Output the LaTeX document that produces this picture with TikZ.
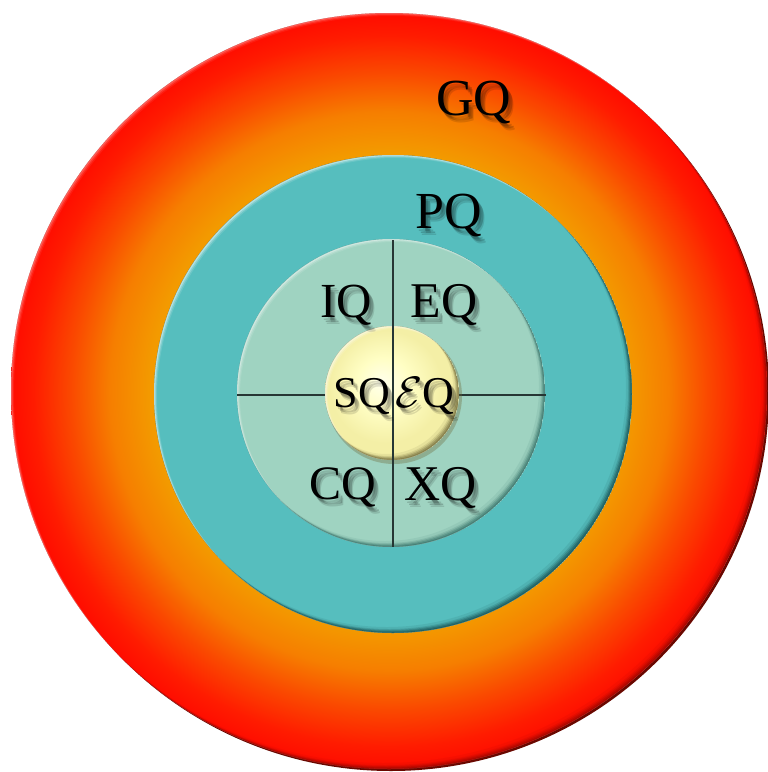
\RequirePackage{fix-cm}
\documentclass[tikz,border=0pt]{standalone}
\usepackage{fontspec}
\setmainfont{Liberation Serif}
\usetikzlibrary{calc}

\definecolor{gqorange}{HTML}{F39A00}
\definecolor{gqmid}{HTML}{F67E00}
\definecolor{gqmidb}{HTML}{FA4A00}
\definecolor{gqred}{HTML}{FF1C00}
\definecolor{gqredb}{HTML}{FF0C00}
\definecolor{gqrim}{HTML}{6A0800}
\definecolor{pqteal}{HTML}{56BEBE}
\definecolor{pqdark}{HTML}{174F50}
\definecolor{mint}{HTML}{9FD3C1}
\definecolor{mintdark}{HTML}{2E6A62}
\definecolor{sqlight}{HTML}{FFFFEC}
\definecolor{sqmid}{HTML}{FFFEC4}
\definecolor{sqedge}{HTML}{F4EFA6}
\definecolor{sqdark}{HTML}{6E6838}
\definecolor{divline}{HTML}{263634}

\pgfdeclareradialshading{gqshade}{\pgfpoint{0bp}{0bp}}{%
  color(0bp)=(gqorange); color(15.8bp)=(gqorange); color(18.5bp)=(gqmid);
  color(21bp)=(gqmidb); color(23.5bp)=(gqred); color(25bp)=(gqredb); color(50bp)=(gqredb)}
\pgfdeclareradialshading{sqshade}{\pgfpoint{-4bp}{4bp}}{%
  color(0bp)=(sqlight); color(10bp)=(sqmid); color(21bp)=(sqedge); color(25bp)=(sqedge); color(50bp)=(sqedge)}

\newcommand{\bevelring}[4]{%
  \begin{scope}
    \clip (#1) circle (#2);
    \foreach \d/\o in {1/0.30,2/0.24,3/0.18,4/0.12,6/0.07}{
      \fill[#3, opacity=\o*#4, even odd rule] (#1) circle (#2) ($(#1)+(-\d,-\d)$) circle (#2);
    }
    \foreach \d/\o in {1/0.25,2/0.15,3/0.08}{
      \fill[white, opacity=\o*#4, even odd rule] (#1) circle (#2) ($(#1)+(\d,\d)$) circle (#2);
    }
  \end{scope}}

\newcommand{\qfont}[1]{\fontsize{#1}{#1}\selectfont}

\newcommand{\qlabel}[6]{%
  \foreach \dx/\dy/\o in {2/3/0.14,4/5/0.20,5/7/0.12}{
    \node[anchor=#4, inner sep=0pt, text=black, text opacity=\o, font=\qfont{#6}]
      at ($(#2,#3)+(\dx,\dy)$) {#5};
  }
  \node[anchor=#4, inner sep=0pt, text=black, font=\qfont{#6}] (#1) at (#2,#3) {#5};}

\begin{document}
\begin{tikzpicture}[x=1pt,y=-1pt]
  \useasboundingbox (0,0) rectangle (768,772);
  \fill[white] (0,0) rectangle (768,772);

  \coordinate (cg) at (389,391);
  \coordinate (cgs) at (391,393);
  \coordinate (cp) at (393,394);
  \coordinate (cm) at (391,393);
  \coordinate (cs) at (392,393);

  % GQ ring
  \fill[gqrim] (cgs) circle (378);
  \shade[shading=gqshade] (cg) circle (378);
  \bevelring{cg}{378}{gqrim}{0.8}

  % PQ disc
  \fill[pqteal] (cp) circle (239);
  \bevelring{cp}{239}{pqdark}{1.5}

  % inner disc
  \fill[mint] (cm) circle (154);
  \bevelring{cm}{154}{mintdark}{1.3}

  % dividing lines
  \coordinate (hl) at (237,395);
  \coordinate (hr) at (546,395);
  \coordinate (vt) at (393,240);
  \coordinate (vb) at (393,547);
  \draw[divline, line width=1.2pt] (hl) -- (hr);

  % SQ disc
  \fill[sqdark, opacity=0.35] ($(cs)+(2,3)$) circle (68);
  \shade[shading=sqshade] (cs) circle (67);
  \bevelring{cs}{67}{sqdark}{1.4}

  \draw[divline, line width=1.2pt] (vt) -- (vb);

  % labels
  \qlabel{gq}{474}{115}{base}{GQ}{52}
  \qlabel{pq}{449}{228}{base}{PQ}{52}
  \qlabel{iq}{346}{317}{base}{IQ}{49}
  \qlabel{eq}{444}{317}{base}{EQ}{50}
  \qlabel{sq}{390}{407}{base east}{SQ}{44}
  \qlabel{escq}{395}{407}{base west}{$\mathcal{E}$Q}{44}
  \qlabel{cq}{343}{499}{base}{CQ}{48}
  \qlabel{xq}{441}{500}{base}{XQ}{50}
\end{tikzpicture}
\end{document}
